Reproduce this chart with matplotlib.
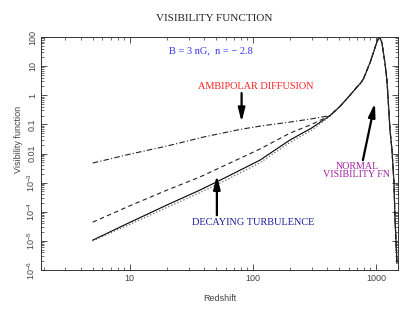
import matplotlib
matplotlib.use('Agg')
import matplotlib.pyplot as plt
from matplotlib.ticker import FixedLocator, LogLocator, NullFormatter

# redshift / visibility values
# low-z part of each curve
z_norm = [5, 10, 20, 37, 60, 114, 200, 300, 423]
g_norm = [1.06e-5, 4.3e-5, 1.7e-4, 5.5e-4, 1.5e-3, 5.9e-3, 0.029, 0.075, 0.2]

z_decay = [5, 10, 20, 37, 60, 114, 200, 300, 423]
g_decay = [1.0e-5, 3.7e-5, 1.4e-4, 4.5e-4, 1.2e-3, 4.8e-3, 0.024, 0.063, 0.19]

z_bfield = [5, 10, 20, 37, 114, 200, 300, 423]
g_bfield = [4.4e-5, 1.6e-4, 5.5e-4, 1.55e-3, 0.0142, 0.050, 0.10, 0.2]

z_ambi = [5, 10, 20, 40, 80, 120, 200, 300, 423]
g_ambi = [4.7e-3, 9.5e-3, 0.018, 0.037, 0.068, 0.09, 0.12, 0.155, 0.2]

# shared part around the last scattering peak
z_peak = [509, 615, 700, 750, 790, 830, 893, 950, 1010, 1057, 1090, 1119, 1183,
          1228, 1253, 1301, 1350, 1401, 1427, 1481]
g_peak = [0.41, 1.0, 1.9, 2.6, 3.6, 6.0, 12.8, 28, 62, 95, 85, 62, 13,
          3.3, 0.87, 0.063, 0.013, 9.5e-4, 6.5e-5, 1.7e-6]

yticks = [1e-6, 1e-5, 1e-4, 1e-3, 1e-2, 1e-1, 1, 10, 100]
ylabels = [r'$10^{-6}$', r'$10^{-5}$', r'$10^{-4}$', r'$10^{-3}$',
           '0.01', '0.1', '1', '10', '100']
xticks = [10, 100, 1000]
xlabels = ['10', '100', '1000']

plt.rcParams['font.family'] = ['Liberation Sans', 'DejaVu Sans']
plt.rcParams['mathtext.fontset'] = 'custom'
plt.rcParams['mathtext.rm'] = 'Liberation Sans'

fig = plt.figure(figsize=(4.15, 3.12), dpi=100)
ax = fig.add_axes([0.0988, 0.1346, 0.8602, 0.7468])

ink = '#222222'
ax.plot(z_norm + z_peak, g_norm + g_peak, '-', color='black', lw=0.8)
ax.plot(z_decay + z_peak, g_decay + g_peak, ':', color='#666666', lw=0.9)
ax.plot(z_bfield + z_peak, g_bfield + g_peak, '--', color=ink, lw=0.8, dashes=(4, 3))
ax.plot(z_ambi + z_peak, g_ambi + g_peak, '-.', color=ink, lw=0.8, dashes=(5, 2, 1, 2))

ax.set_xscale('log')
ax.set_yscale('log')
ax.set_xlim(1.9, 1510)
ax.set_ylim(1e-6, 100)

ax.xaxis.set_major_locator(FixedLocator(xticks))
ax.set_xticklabels(xlabels)
ax.xaxis.set_minor_locator(LogLocator(base=10, subs=range(2, 10)))
ax.xaxis.set_minor_formatter(NullFormatter())
ax.yaxis.set_major_locator(FixedLocator(yticks))
ax.set_yticklabels(ylabels, rotation=90, va='center')
ax.yaxis.set_minor_locator(LogLocator(base=10, subs=range(2, 10), numticks=20))
ax.yaxis.set_minor_formatter(NullFormatter())

ax.tick_params(which='both', direction='in', top=True, right=True,
               colors='#333333', labelcolor='#444444', labelsize=6.5)
ax.tick_params(which='major', length=4, width=0.6)
ax.tick_params(which='minor', length=2, width=0.5)
ax.tick_params(axis='x', pad=3)
ax.tick_params(axis='y', pad=3)
for s in ax.spines.values():
    s.set_linewidth(0.7)
    s.set_color('#333333')

ax.set_xlabel('Redshift', fontsize=6.5, color='#444444', labelpad=8)
ax.set_ylabel('Visibility function', fontsize=6.5, color='#444444')
ax.yaxis.set_label_coords(-0.05, 0.56)

serif = ['Liberation Serif', 'DejaVu Serif']
fig.text(0.516, 0.942, 'VISIBILITY FUNCTION', ha='center', va='center',
         fontsize=8, family=serif, color='#222222')
ax.text(0.476, 0.94, 'B = 3 nG,  n = \u2212 2.8', transform=ax.transAxes,
        ha='center', va='center', fontsize=7.5, family=serif, color='#3333ff')
ax.text(106, 2.07, 'AMBIPOLAR DIFFUSION', ha='center', va='center',
        fontsize=7.4, family=serif, color='#ff2020')
ax.text(100, 4.3e-5, 'DECAYING TURBULENCE', ha='center', va='center',
        fontsize=7.4, family=serif, color='#1a1a99')
ax.text(701, 2.6e-3, 'NORMAL\nVISIBILITY FN', ha='center', va='center',
        fontsize=7.2, family=serif, color='#a020a0', linespacing=0.95)

arrow = dict(arrowstyle='-|>,head_length=0.8,head_width=0.2', color='black', lw=1.6,
             shrinkA=0, shrinkB=0)
ax.annotate('', xy=(81, 0.12), xytext=(81, 1.19), arrowprops=arrow)
ax.annotate('', xy=(51, 1.8e-3), xytext=(51, 7.6e-5), arrowprops=arrow)
ax.annotate('', xy=(981, 0.54), xytext=(783, 5.9e-3), arrowprops=arrow)

fig.savefig('out.png', dpi=100)
